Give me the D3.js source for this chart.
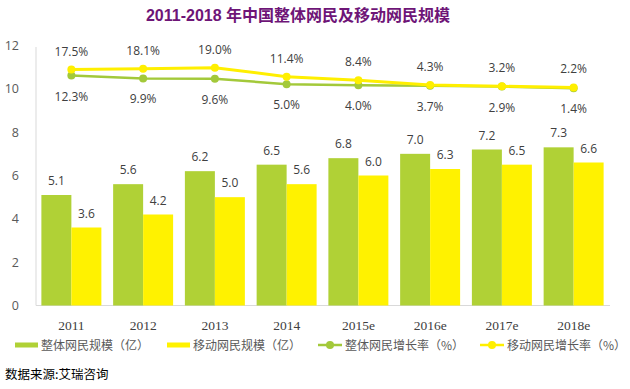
<!DOCTYPE html>
<html>
<head>
<meta charset="utf-8">
<script src="https://cdn.jsdelivr.net/npm/d3@7"></script>
<style>
  body { margin: 0; background: #fff; }
  svg { display: block; }
</style>
</head>
<body>
<script>
// data
const years = ["2011", "2012", "2013", "2014", "2015e", "2016e", "2017e", "2018e"];
const totalUsers = [5.1, 5.6, 6.2, 6.5, 6.8, 7.0, 7.2, 7.3];
const mobileUsers = [3.6, 4.2, 5.0, 5.6, 6.0, 6.3, 6.5, 6.6];
const totalGrowth = [12.3, 9.9, 9.6, 5.0, 4.0, 3.7, 2.9, 1.4];
const mobileGrowth = [17.5, 18.1, 19.0, 11.4, 8.4, 4.3, 3.2, 2.2];
const yTicks = [0, 2, 4, 6, 8, 10, 12];
const seriesNames = ["整体网民规模（亿）", "移动网民规模（亿）", "整体网民增长率（%）", "移动网民增长率（%）"];

const green = "#b0d136";
const greenLine = "#a3c93a";
const yellow = "#fff200";
const yellowLine = "#ffef00";
const txt = "#404040";

const svg = d3.select("body").append("svg")
  .attr("width", 630)
  .attr("height", 389);

// title
svg.append("text")
  .attr("x", 298)
  .attr("y", 21)
  .attr("text-anchor", "middle")
  .attr("fill", "#6e1577")
  .attr("font-family", "'Liberation Sans', 'Noto Sans CJK SC', sans-serif")
  .attr("font-weight", "bold")
  .attr("font-size", 16)
  .text("2011-2018 年中国整体网民及移动网民规模");

const x = d3.scaleBand()
  .domain(years)
  .range([35.5, 609.5])
  .paddingInner(0.164)
  .paddingOuter(0.082);

const xs = d3.scaleBand()
  .domain([0, 1])
  .range([0, x.bandwidth()]);

const y = d3.scaleLinear()
  .domain([0, 12])
  .range([305.5, 45.5]);

// hidden secondary axis for the growth rates
const yRate = d3.scaleLinear()
  .domain([-184, 38])
  .range([305.5, 45.5]);

// y axis labels
const yAxis = svg.append("g")
  .attr("transform", "translate(19,0)")
  .call(d3.axisLeft(y).tickValues(yTicks).tickSize(0).tickPadding(0));
yAxis.select(".domain").remove();
yAxis.selectAll("text")
  .attr("fill", "#595959")
  .attr("font-family", "'Open Sans', sans-serif")
  .attr("font-size", 12.5);

// axis lines
svg.append("line")
  .attr("x1", 36).attr("x2", 36)
  .attr("y1", 47).attr("y2", y(0))
  .attr("stroke", "#d9d9d9");
svg.append("line")
  .attr("x1", 36).attr("x2", 610)
  .attr("y1", y(0)).attr("y2", y(0))
  .attr("stroke", "#d9d9d9");

// x axis labels
const xAxis = svg.append("g")
  .attr("transform", "translate(0," + y(0) + ")")
  .call(d3.axisBottom(x).tickSize(0).tickPadding(15));
xAxis.select(".domain").remove();
xAxis.selectAll("text")
  .attr("fill", txt)
  .attr("font-family", "'Liberation Serif', serif")
  .attr("font-size", 13.5);

// bars
const bars = [totalUsers, mobileUsers];
const barColors = [green, yellow];
bars.forEach(function (vals, s) {
  svg.append("g").selectAll("rect")
    .data(vals)
    .join("rect")
    .attr("x", (d, i) => x(years[i]) + xs(s))
    .attr("y", d => y(d))
    .attr("width", xs.bandwidth())
    .attr("height", d => y(0) - y(d))
    .attr("fill", barColors[s]);

  svg.append("g").selectAll("text")
    .data(vals)
    .join("text")
    .attr("x", (d, i) => x(years[i]) + xs(s) + xs.bandwidth() / 2)
    .attr("y", d => y(d) - 10)
    .attr("text-anchor", "middle")
    .attr("fill", txt)
    .attr("font-family", "'Open Sans', sans-serif")
    .attr("font-size", 12)
    .text(d => d.toFixed(1));
});

// growth lines
const cx = d => x(d) + x.bandwidth() / 2;
const lines = [
  { vals: totalGrowth, color: greenLine, w: 2.5, dy: 25 },
  { vals: mobileGrowth, color: yellowLine, w: 3, dy: -14 }
];
lines.forEach(function (l) {
  const line = d3.line()
    .x((d, i) => cx(years[i]))
    .y(d => yRate(d));
  svg.append("path")
    .datum(l.vals)
    .attr("d", line)
    .attr("fill", "none")
    .attr("stroke", l.color)
    .attr("stroke-width", l.w);
  svg.append("g").selectAll("circle")
    .data(l.vals)
    .join("circle")
    .attr("cx", (d, i) => cx(years[i]))
    .attr("cy", d => yRate(d))
    .attr("r", 4)
    .attr("fill", l.color);
});
lines.forEach(function (l) {
  svg.append("g").selectAll("text")
    .data(l.vals)
    .join("text")
    .attr("x", (d, i) => cx(years[i]))
    .attr("y", d => yRate(d) + l.dy)
    .attr("text-anchor", "middle")
    .attr("fill", txt)
    .attr("font-family", "'Open Sans', sans-serif")
    .attr("font-size", 12)
    .text(d => d.toFixed(1) + "%");
});

// legend
const legendX = [15, 167, 318, 480];
const legendY = 345;
const leg = svg.append("g");
seriesNames.forEach(function (name, i) {
  const lx = legendX[i];
  if (i < 2) {
    leg.append("rect")
      .attr("x", lx).attr("y", legendY - 2.5)
      .attr("width", 23).attr("height", 5)
      .attr("fill", barColors[i]);
  } else {
    const c = i === 2 ? greenLine : yellowLine;
    leg.append("line")
      .attr("x1", lx).attr("x2", lx + 24)
      .attr("y1", legendY).attr("y2", legendY)
      .attr("stroke", c).attr("stroke-width", 2.5);
    leg.append("circle")
      .attr("cx", lx + 12).attr("cy", legendY)
      .attr("r", 4).attr("fill", c);
  }
  leg.append("text")
    .attr("x", lx + (i < 2 ? 26 : 27))
    .attr("y", legendY + 4.5)
    .attr("fill", "#595959")
    .attr("font-family", "'Noto Sans CJK SC', sans-serif")
    .attr("font-size", 12)
    .text(name);
});

// source
svg.append("text")
  .attr("x", 5)
  .attr("y", 379)
  .attr("fill", "#000")
  .attr("font-family", "'Noto Sans CJK SC', sans-serif")
  .attr("font-size", 12.5)
  .text("数据来源:艾瑞咨询");
</script>
</body>
</html>
